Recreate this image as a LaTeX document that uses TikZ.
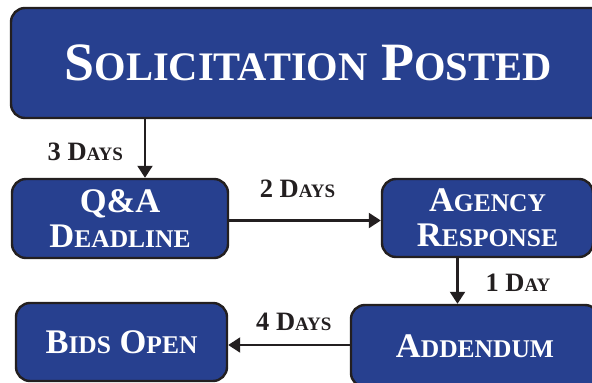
\documentclass[tikz,border=0pt]{standalone}
\usepackage{fontspec}
\setmainfont{Liberation Serif}
\usetikzlibrary{arrows.meta}
\definecolor{stageblue}{HTML}{27408F}
\definecolor{edgeink}{HTML}{231F20}
% smaller capitals for the faked small caps
\newcommand{\titlelow}[1]{{\fontsize{40.5}{56}\selectfont #1}}
\newcommand{\boxlow}[1]{{\fontsize{25.5}{35}\selectfont #1}}
\newcommand{\daylow}[1]{{\fontsize{19}{26}\selectfont #1}}
\begin{document}
\begin{tikzpicture}[x=1pt, y=-1pt,
		stage/.style={draw=edgeink, line width=2.4pt, fill=stageblue, rounded corners=14pt, text=white, font=\bfseries\fontsize{34.5}{35}\selectfont, align=center, inner sep=0pt},
		flow/.style={draw=edgeink, line width=2.1pt, -{Triangle[width=15pt,length=12pt]}},
		days/.style={font=\bfseries\fontsize{26.5}{26}\selectfont, text=edgeink, inner sep=0pt}]
		\clip (0,0) rectangle (592,383);
		
		% Nodes
		\node[stage, minimum width=594pt, minimum height=110pt, font=\bfseries\fontsize{54}{56}\selectfont] (posted) at (308,63) {S\titlelow{OLICITATION} P\titlelow{OSTED}};
		\node[stage, minimum width=216pt, minimum height=79pt] (qanda) at (120,218.5) {Q\&A\\D\boxlow{EADLINE}};
		\node[stage, minimum width=211pt, minimum height=78pt] (agency) at (487.5,218) {A\boxlow{GENCY}\\R\boxlow{ESPONSE}};
		\node[stage, minimum width=248pt, minimum height=82pt] (addendum) at (475,346) {A\boxlow{DDENDUM}};
		\node[stage, minimum width=211pt, minimum height=78pt] (bids) at (121.5,342) {B\boxlow{IDS} O\boxlow{PEN}};
		
		% Edges
		\draw[flow] ([xshift=25pt]qanda.north |- posted.south) -- node[days, pos=0.56, left=21pt] {3 D\daylow{AYS}} ([xshift=25pt]qanda.north);
		\draw[flow] ([yshift=-2pt]qanda.east) -- node[days, pos=0.45, above=22pt] {2 D\daylow{AYS}} ([yshift=-2pt]qanda.east -| agency.west);
		\draw[flow] ([xshift=-30pt]agency.south) -- node[days, pos=0.54, right=27pt] {1 D\daylow{AY}} ([xshift=-30pt]agency.south |- addendum.north);
		\draw[flow] ([yshift=1pt]addendum.west) -- node[days, pos=0.46, above=13pt] {4 D\daylow{AYS}} ([yshift=1pt]addendum.west -| bids.east);
	\end{tikzpicture}
\end{document}
